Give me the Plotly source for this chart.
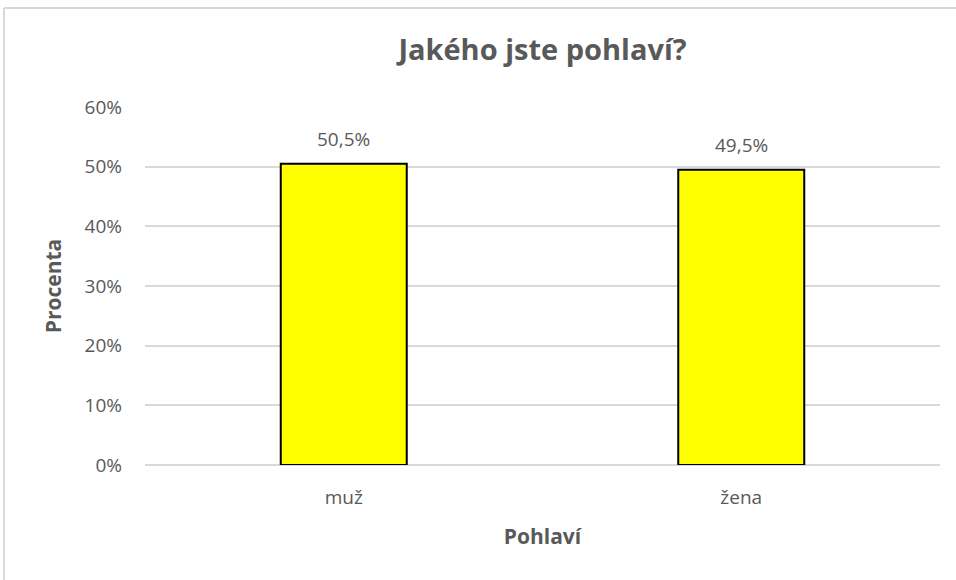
import plotly.graph_objects as go

categories = ["muž", "žena"]
values = [0.505, 0.495]
title_text = "Jakého jste pohlaví?"
x_title = "Pohlaví"
y_title = "Procenta"

FONT = "Open Sans"
GRAY = "#595959"

fig = go.Figure(
    go.Bar(
        x=categories,
        y=values,
        marker=dict(color="#FFFF00", line=dict(color="#000000", width=2)),
        width=0.317,
        hoverinfo="skip",
    )
)

for c, v in zip(categories, values):
    fig.add_annotation(
        x=c, y=v, xref="x", yref="y",
        text=f"{v*100:.1f}%".replace(".", ","),
        showarrow=False, yanchor="middle", yshift=25,
        font=dict(family=FONT, size=19, color=GRAY),
    )

L, R, T, B = 145, 16, 107, 115
W, H = 956, 580
pw, ph = W - L - R, H - T - B

def px_x(px):
    return (px - L) / pw

def px_y(py):
    return (H - B - py) / ph

fig.update_layout(
    width=W,
    height=H,
    margin=dict(l=L, r=R, t=T, b=B),
    paper_bgcolor="white",
    plot_bgcolor="white",
    separators=", ",
    showlegend=False,
    title=dict(
        text=f"<b>{title_text}</b>",
        x=0.5,
        xanchor="center",
        xref="paper",
        y=1 - 50 / H,
        yanchor="middle",
        font=dict(family=FONT, size=29, color=GRAY),
    ),
    font=dict(family=FONT, color=GRAY),
    xaxis=dict(
        showgrid=False,
        showline=False,
        ticks="",
        ticklabelstandoff=19,
        tickfont=dict(family=FONT, size=19, color=GRAY),
        title=dict(text=f"<b>{x_title}</b>", font=dict(family=FONT, size=21, color=GRAY), standoff=20),
    ),
    yaxis=dict(
        range=[0, 0.6],
        dtick=0.1,
        tickformat=".0%",
        showgrid=True,
        gridcolor="#D9D9D9",
        gridwidth=1.5,
        zeroline=True,
        zerolinecolor="#D9D9D9",
        zerolinewidth=1.5,
        showline=False,
        ticks="",
        ticklabelstandoff=22,
        tickfont=dict(family=FONT, size=19, color=GRAY),
        title=dict(text=f"<b>{y_title}</b>", font=dict(family=FONT, size=21, color=GRAY), standoff=17),
    ),
    shapes=[
        dict(type="line", xref="paper", yref="paper",
             x0=px_x(4), x1=px_x(W), y0=px_y(8), y1=px_y(8),
             line=dict(color="#D9D9D9", width=2)),
        dict(type="line", xref="paper", yref="paper",
             x0=px_x(4), x1=px_x(4), y0=px_y(8), y1=px_y(H),
             line=dict(color="#D9D9D9", width=2)),
    ],
)

fig.write_html("out.html", config={"displayModeBar": False},
               post_script="document.body.style.margin='0px';")
